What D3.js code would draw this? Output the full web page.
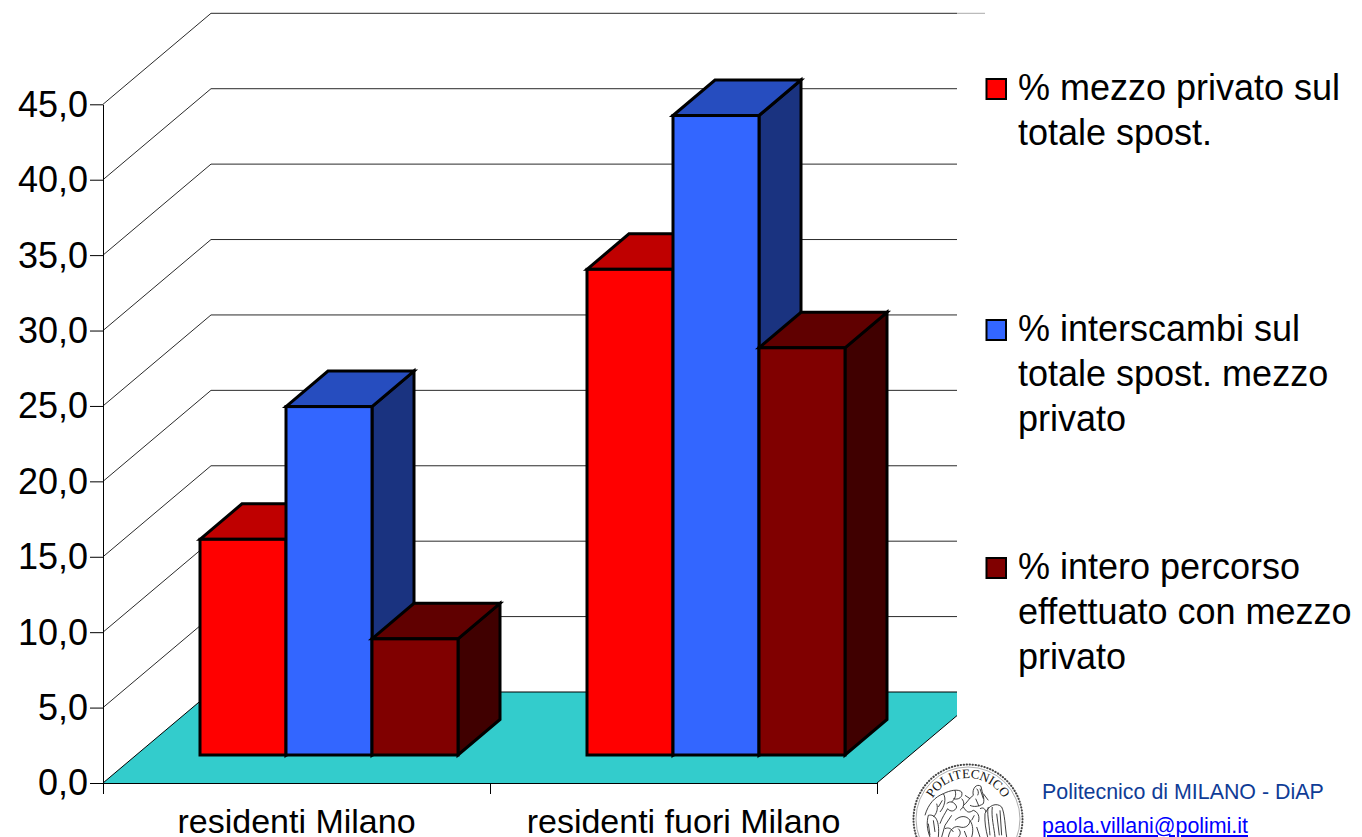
<!DOCTYPE html>
<html>
<head>
<meta charset="utf-8">
<script src="https://cdn.jsdelivr.net/npm/d3@7"></script>
<style>
  html, body { margin: 0; padding: 0; background: #fff; overflow: hidden; }
  text { font-family: "Liberation Sans", Arial, sans-serif; fill: #000; }
</style>
</head>
<body>
<script>
var categories = ['residenti Milano', 'residenti fuori Milano'];
var seriesNames = ['privato', 'interscambi', 'intero'];
var privato = [14.3, 32.2];
var interscambi = [23.1, 42.4];
var intero = [7.7, 27.0];
var yTicks = [0, 5, 10, 15, 20, 25, 30, 35, 40, 45];
var legendLines = [
    ['% mezzo privato sul', 'totale spost.'],
    ['% interscambi sul', 'totale spost. mezzo', 'privato'],
    ['% intero percorso', 'effettuato con mezzo', 'privato']
];

var palette = {
    privato: { front: '#ff0000', top: '#bf0000', side: '#800000' },
    interscambi: { front: '#3366ff', top: '#264dbf', side: '#1a3380' },
    intero: { front: '#800000', top: '#600000', side: '#400000' }
};
var seriesValues = { privato: privato, interscambi: interscambi, intero: intero };

// oblique projection: wall depth, gap in front of the bars, bar depth
var wallDx = 108, wallDy = 91;
var gapDx = 32.5, gapDy = 28;
var barDx = 42, barDy = 35.5;

var svg = d3.select('body').append('svg')
    .attr('width', 1362)
    .attr('height', 837);

var y = d3.scaleLinear().domain([0, 45]).range([783, 104.3]);
var x0 = d3.scaleBand().domain(categories).range([103, 877]);
var x1 = d3.scaleBand().domain(seriesNames).range([0, x0.bandwidth()]).paddingInner(0).paddingOuter(0.75);

// gridlines run up the side wall and then along the back wall
svg.append('g').selectAll('path')
    .data(yTicks.slice(1))
    .enter().append('path')
    .attr('fill', 'none')
    .attr('stroke', '#2a2a2a')
    .attr('stroke-width', 1)
    .attr('d', function(d){
        return 'M103,' + y(d) + 'L' + (103 + wallDx) + ',' + (y(d) - wallDy) + 'L957,' + (y(d) - wallDy);
    });
// the top line carries on faintly past the plot area
svg.append('path')
    .attr('fill', 'none')
    .attr('stroke', '#aaa')
    .attr('stroke-width', 1)
    .attr('d', 'M957,' + (y(45) - wallDy) + 'L985,' + (y(45) - wallDy));

// floor, cut off on the right by the legend area
svg.append('path')
    .attr('fill', '#33cccc')
    .attr('d', 'M' + x0.range()[0] + ',' + y(0) +
        'L' + (103 + wallDx) + ',' + (y(0) - wallDy) +
        'L957,' + (y(0) - wallDy) +
        'L957,' + (y(0) - (957 - 877) * wallDy / wallDx) +
        'L877,' + y(0) + 'Z');
svg.append('path')
    .attr('fill', 'none')
    .attr('stroke', '#000')
    .attr('stroke-width', 1)
    .attr('d', 'M103,' + y(0) + 'L' + (103 + wallDx) + ',' + (y(0) - wallDy) +
        'L957,' + (y(0) - wallDy) +
        'M957,' + (y(0) - (957 - 877) * wallDy / wallDx) + 'L877,' + y(0));

var yAxis = d3.axisLeft(y)
    .tickValues(yTicks)
    .tickFormat(function(d){ return d3.format('.1f')(d).replace('.', ','); })
    .tickSize(13)
    .tickSizeOuter(0)
    .tickPadding(2);
var yg = svg.append('g').attr('transform', 'translate(103,0)').call(yAxis);
yg.selectAll('text').attr('font-size', 36).attr('dy', '0.33em');

var xEdges = d3.scaleLinear().domain([0, categories.length]).range([103, 877]);
var xAxis = d3.axisBottom(xEdges)
    .tickValues(d3.range(categories.length + 1))
    .tickFormat('')
    .tickSize(11)
    .tickSizeOuter(0);
svg.append('g').attr('transform', 'translate(0,783)').call(xAxis);

var xLabels = d3.axisBottom(x0).tickSize(0).tickPadding(29);
var xl = svg.append('g').attr('transform', 'translate(0,783)').call(xLabels);
xl.select('.domain').remove();
xl.selectAll('text').attr('font-size', 34).attr('dy', '0.62em');

function poly(pts){
    return pts.map(function(p){ return p.join(','); }).join(' ');
}

// one box per category and series, drawn left to right so later boxes overlap earlier ones
categories.forEach(function(cat, c){
    seriesNames.forEach(function(name){
        var left = x0(cat) + x1(name) + gapDx;
        var right = left + x1.bandwidth();
        var base = y(0) - gapDy;
        var top = y(seriesValues[name][c]) - gapDy;
        var col = palette[name];
        var box = svg.append('g')
            .attr('stroke', '#000')
            .attr('stroke-width', 3)
            .attr('stroke-linejoin', 'miter');
        box.append('polygon').attr('fill', col.side).attr('points', poly([
            [right, top], [right + barDx, top - barDy], [right + barDx, base - barDy], [right, base]
        ]));
        box.append('polygon').attr('fill', col.top).attr('points', poly([
            [left, top], [left + barDx, top - barDy], [right + barDx, top - barDy], [right, top]
        ]));
        box.append('rect')
            .attr('x', left).attr('y', top)
            .attr('width', right - left).attr('height', base - top)
            .attr('fill', col.front);
    });
});

// legend
var legendTop = [100, 341, 579];
seriesNames.forEach(function(name, i){
    var g = svg.append('g');
    g.append('rect')
        .attr('x', 986.5).attr('y', legendTop[i] - 21)
        .attr('width', 19.5).attr('height', 20)
        .attr('fill', palette[name].front)
        .attr('stroke', '#000')
        .attr('stroke-width', 2);
    g.selectAll('text')
        .data(legendLines[i])
        .enter().append('text')
        .attr('x', 1018)
        .attr('y', function(d, j){ return legendTop[i] + j * 45; })
        .attr('font-size', 36)
        .text(function(d){ return d; });
});

// footer credits
svg.append('text')
    .attr('x', 1042).attr('y', 799)
    .attr('font-size', 21.4)
    .style('fill', '#0f3c96')
    .text('Politecnico di MILANO - DiAP');
svg.append('text')
    .attr('x', 1042).attr('y', 833)
    .attr('font-size', 21.4)
    .style('fill', '#0000ff')
    .style('text-decoration', 'underline')
    .text('paola.villani@polimi.it');

// university seal, runs off the bottom edge of the page
var seal = svg.append('g').attr('transform', 'translate(968,819)');
seal.append('circle').attr('r', 54.5).attr('fill', 'none').attr('stroke', '#444').attr('stroke-width', 2)
    .attr('stroke-linecap', 'round').attr('stroke-dasharray', '0.4 2.6');
seal.append('circle').attr('r', 52).attr('fill', 'none').attr('stroke', '#777').attr('stroke-width', 0.6);
seal.append('path').attr('id', 'sealArc').attr('fill', 'none')
    .attr('d', 'M-41,0 A41,41 0 0 1 41,0');
seal.append('text')
    .attr('font-size', 13)
    .style('font-family', '"Liberation Serif", serif')
    .style('fill', '#111')
    .append('textPath')
    .attr('href', '#sealArc')
    .attr('startOffset', '50%')
    .attr('text-anchor', 'middle')
    .text('POLITECNICO');

var sealStrokes = [
    'M60 175C70 140 90 120 115 110C125 125 118 150 105 165M115 110C135 100 160 95 170 105C175 120 160 130 145 125',
    'M75 240C65 215 65 195 70 175C90 170 105 190 100 240',
    'M205 115C200 95 215 78 228 88C232 110 240 125 235 140M205 115C190 125 185 140 175 145M235 140C220 150 205 150 195 145M215 95C220 100 222 108 218 115',
    'M125 140C135 130 150 135 155 150C150 165 135 165 128 155M150 190C165 175 185 175 195 190C195 205 180 215 165 210M130 240C135 215 150 205 165 210',
    'M195 190C205 205 205 225 200 240M175 150C185 165 190 170 205 160C220 165 225 180 220 195',
    'M240 170C250 145 275 135 290 150C300 170 300 210 305 240M262 150C258 180 268 215 270 240M240 170C238 195 243 220 248 240M225 155C235 150 240 155 243 165',
    'M85 190L90 225M112 130L100 150M275 170L283 235M215 210L225 240M140 175L120 205L110 240M235 110L250 130M180 115L195 125',
    'M150 100C155 115 150 125 140 135M170 125C180 135 178 150 165 160M128 155C120 170 112 180 105 200M95 140C100 155 95 170 85 180',
    'M225 95L235 125M212 125L222 148M250 150C245 165 252 195 255 235M285 160L290 235M160 215C170 225 165 235 160 240M178 222L185 240M208 175L200 190M70 200L75 235M120 215C130 210 140 215 145 225'
];
svg.append('g')
    .attr('transform', 'translate(905,757) scale(0.3333)')
    .selectAll('path')
    .data(sealStrokes)
    .enter().append('path')
    .attr('fill', 'none')
    .attr('stroke', '#222')
    .attr('stroke-width', 2.6)
    .attr('d', function(d){ return d; });
</script>
</body>
</html>
